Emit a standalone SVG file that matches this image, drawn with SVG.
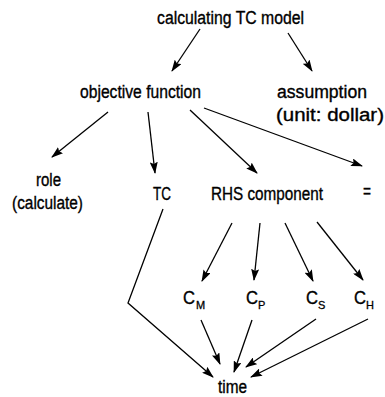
<svg xmlns="http://www.w3.org/2000/svg" width="385" height="397" viewBox="0 0 385 397">
<defs>
<marker id="ah" viewBox="0 0 12 8" refX="11" refY="4" markerWidth="12" markerHeight="8" markerUnits="userSpaceOnUse" orient="auto">
<path d="M0,0 L12,4 L0,8 L2,4 z" fill="#000"/>
</marker>
<style>
text{font-family:"Liberation Sans",Arial,sans-serif;font-size:18px;fill:#000;stroke:#000;stroke-width:0.35}
.sub{font-size:11px;stroke-width:0.3}
.c line,.c polyline{stroke:#000;stroke-width:1.3;fill:none;marker-end:url(#ah)}
</style>
</defs>
<rect width="385" height="397" fill="#fff"/>
<g id="connectors" class="c">
<line x1="200" y1="29" x2="172" y2="71"/>
<line x1="288" y1="33" x2="312" y2="71"/>
<line x1="108" y1="112" x2="52" y2="157"/>
<line x1="148" y1="112" x2="155" y2="173"/>
<line x1="190" y1="110" x2="257" y2="173"/>
<line x1="204" y1="108" x2="362" y2="166"/>
<polyline points="163,209 128,303 213,377"/>
<line x1="232" y1="223" x2="202" y2="281"/>
<line x1="260" y1="223" x2="254" y2="280"/>
<line x1="285" y1="223" x2="313" y2="281"/>
<line x1="317" y1="222" x2="363" y2="280"/>
<line x1="201" y1="320" x2="220" y2="364"/>
<line x1="252" y1="320" x2="234" y2="372"/>
<line x1="316" y1="319" x2="246" y2="367"/>
<line x1="368" y1="319" x2="251" y2="377"/>
</g>
<g id="n-root"><text x="157" y="24" textLength="147" lengthAdjust="spacingAndGlyphs">calculating TC model</text></g>
<g id="n-objective"><text x="80" y="98" textLength="121" lengthAdjust="spacingAndGlyphs">objective function</text></g>
<g id="n-assumption"><text x="277" y="98" textLength="90" lengthAdjust="spacingAndGlyphs">assumption</text><text x="276" y="121" textLength="108" lengthAdjust="spacingAndGlyphs">(unit: dollar)</text></g>
<g id="n-role"><text x="36" y="186" textLength="25" lengthAdjust="spacingAndGlyphs">role</text><text x="12" y="209" textLength="71" lengthAdjust="spacingAndGlyphs">(calculate)</text></g>
<g id="n-tc"><text x="153" y="200" textLength="18" lengthAdjust="spacingAndGlyphs">TC</text></g>
<g id="n-rhs"><text x="211" y="200" textLength="112" lengthAdjust="spacingAndGlyphs">RHS component</text></g>
<g id="n-eq"><text x="363" y="197" textLength="8" lengthAdjust="spacingAndGlyphs">=</text></g>
<g id="n-cm"><text x="183" y="304" textLength="12" lengthAdjust="spacingAndGlyphs">C</text><text class="sub" x="196" y="309">M</text></g>
<g id="n-cp"><text x="246" y="304" textLength="12" lengthAdjust="spacingAndGlyphs">C</text><text class="sub" x="258" y="309">P</text></g>
<g id="n-cs"><text x="306" y="304" textLength="12" lengthAdjust="spacingAndGlyphs">C</text><text class="sub" x="318" y="309">S</text></g>
<g id="n-ch"><text x="354" y="304" textLength="12" lengthAdjust="spacingAndGlyphs">C</text><text class="sub" x="366" y="309">H</text></g>
<g id="n-time"><text x="218" y="393" textLength="29" lengthAdjust="spacingAndGlyphs">time</text></g>
</svg>
